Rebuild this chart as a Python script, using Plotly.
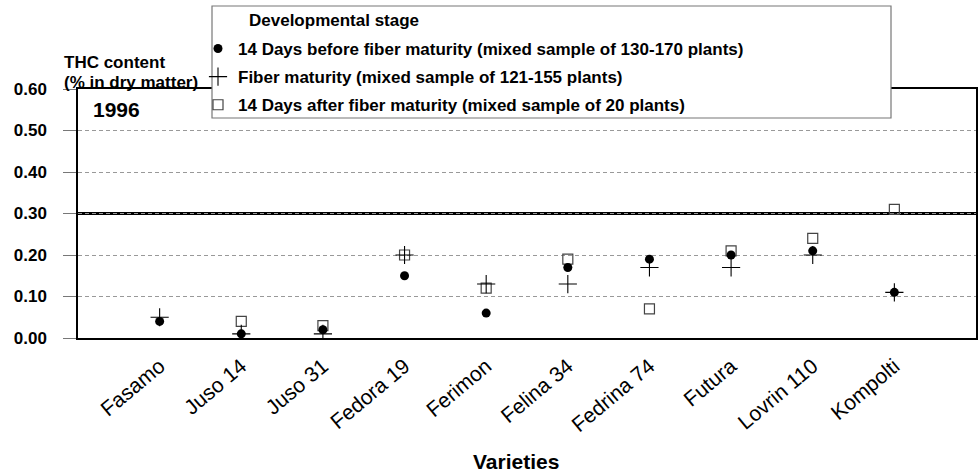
import plotly.graph_objects as go

categories = ["Fasamo", "Juso 14", "Juso 31", "Fedora 19", "Ferimon",
              "Felina 34", "Fedrina 74", "Futura", "Lovrin 110", "Kompolti"]
before_maturity = [0.04, 0.01, 0.02, 0.15, 0.06, 0.17, 0.19, 0.20, 0.21, 0.11]
fiber_maturity = [0.05, 0.01, 0.01, 0.20, 0.13, 0.13, 0.17, 0.17, 0.20, 0.11]
after_maturity = [None, 0.04, 0.03, 0.20, 0.12, 0.19, 0.07, 0.21, 0.24, 0.31]
y_ticks = [0.0, 0.1, 0.2, 0.3, 0.4, 0.5, 0.6]
y_tick_labels = ["0.00", "0.10", "0.20", "0.30", "0.40", "0.50", "0.60"]
threshold = 0.30

name_before = "14 Days before fiber maturity (mixed sample of 130-170 plants)"
name_maturity = "Fiber maturity (mixed sample of 121-155 plants)"
name_after = "14 Days after fiber maturity (mixed sample of 20 plants)"

FONT = "Liberation Sans, Arial, sans-serif"

fig = go.Figure()
fig.add_trace(go.Scatter(
    x=categories, y=after_maturity, mode="markers", name=name_after,
    legendrank=3, legendgroup="c",
    marker=dict(symbol="square-open", size=10, color="#444",
                line=dict(width=1.2, color="#444"))))
fig.add_trace(go.Scatter(
    x=categories, y=before_maturity, mode="markers", name=name_before,
    legendrank=1, legendgroup="a",
    marker=dict(symbol="circle", size=9, color="black")))
fig.add_trace(go.Scatter(
    x=categories, y=fiber_maturity, mode="markers", name=name_maturity,
    legendrank=2, legendgroup="b",
    marker=dict(symbol="cross-thin", size=13, color="black",
                line=dict(width=1.1, color="black"))))

fig.update_layout(
    width=980, height=474,
    margin=dict(l=78, r=4, t=89, b=136, autoexpand=False),
    paper_bgcolor="white", plot_bgcolor="white",
    font=dict(family=FONT, color="black"),
    showlegend=True,
    legend=dict(
        x=(198 - 78) / 898, y=1 + (89 - 31) / 249, xanchor="left", yanchor="top",
        bgcolor="rgba(0,0,0,0)", borderwidth=0,
        font=dict(family=FONT, size=17, weight="bold", color="black"),
        tracegroupgap=3, itemwidth=30,
    ),
    xaxis=dict(
        type="category", range=[-1, 10],
        showline=True, linecolor="black", linewidth=1.5, mirror=True,
        showgrid=False, ticks="", tickangle=-40, ticklabelstandoff=6,
        tickfont=dict(family=FONT, size=21, color="black"),
        zeroline=False,
    ),
    yaxis=dict(
        range=[0, 0.6], tickvals=y_ticks, ticktext=y_tick_labels,
        showline=True, linecolor="black", linewidth=1.5, mirror=True,
        ticks="outside", ticklen=13, tickcolor="#777", tickwidth=1,
        ticklabelstandoff=13,
        tickfont=dict(family=FONT, size=17, weight="bold", color="black"),
        showgrid=True, gridcolor="#999", gridwidth=1, griddash="4px,3px",
        zeroline=False,
    ),
    shapes=[
        dict(type="line", xref="paper", x0=0, x1=1, yref="y",
             y0=threshold, y1=threshold, line=dict(color="black", width=3),
             layer="below"),
        dict(type="rect", xref="paper", yref="paper",
             x0=(212 - 78) / 898, x1=(891 - 78) / 898,
             y0=1 - (118 - 89) / 249, y1=1 + (89 - 6) / 249,
             fillcolor="white", line=dict(color="#777", width=1.2),
             layer="above"),
    ],
    annotations=[
        dict(text="<b>Developmental stage</b>", xref="paper", yref="paper",
             x=(247 - 78) / 898, y=1 + (89 - 21) / 249, xanchor="left",
             yanchor="middle", showarrow=False,
             font=dict(family=FONT, size=17, color="black")),
        dict(text="<b>THC content</b>", xref="paper", yref="paper",
             x=(62 - 78) / 898, y=1 + (89 - 62) / 249, xanchor="left",
             yanchor="middle", showarrow=False,
             font=dict(family=FONT, size=17, color="black")),
        dict(text="<b>(% in dry matter)</b>", xref="paper", yref="paper",
             x=(62 - 78) / 898, y=1 + (89 - 82) / 249, xanchor="left",
             yanchor="middle", showarrow=False,
             font=dict(family=FONT, size=17, color="black")),
        dict(text="<b>1996</b>", xref="paper", yref="paper",
             x=(91 - 78) / 898, y=1 - (109 - 89) / 249, xanchor="left",
             yanchor="middle", showarrow=False,
             font=dict(family=FONT, size=21, color="black")),
        dict(text="<b>Varieties</b>", xref="paper", yref="paper",
             x=(516 - 78) / 898, y=-(461 - 338) / 249, xanchor="center",
             yanchor="middle", showarrow=False,
             font=dict(family=FONT, size=21, color="black")),
    ],
)

fig.write_html(
    "out.html",
    config={"displayModeBar": False},
    post_script="document.body.style.margin='0';document.body.style.padding='0';"
                "document.documentElement.style.overflow='hidden';",
)
